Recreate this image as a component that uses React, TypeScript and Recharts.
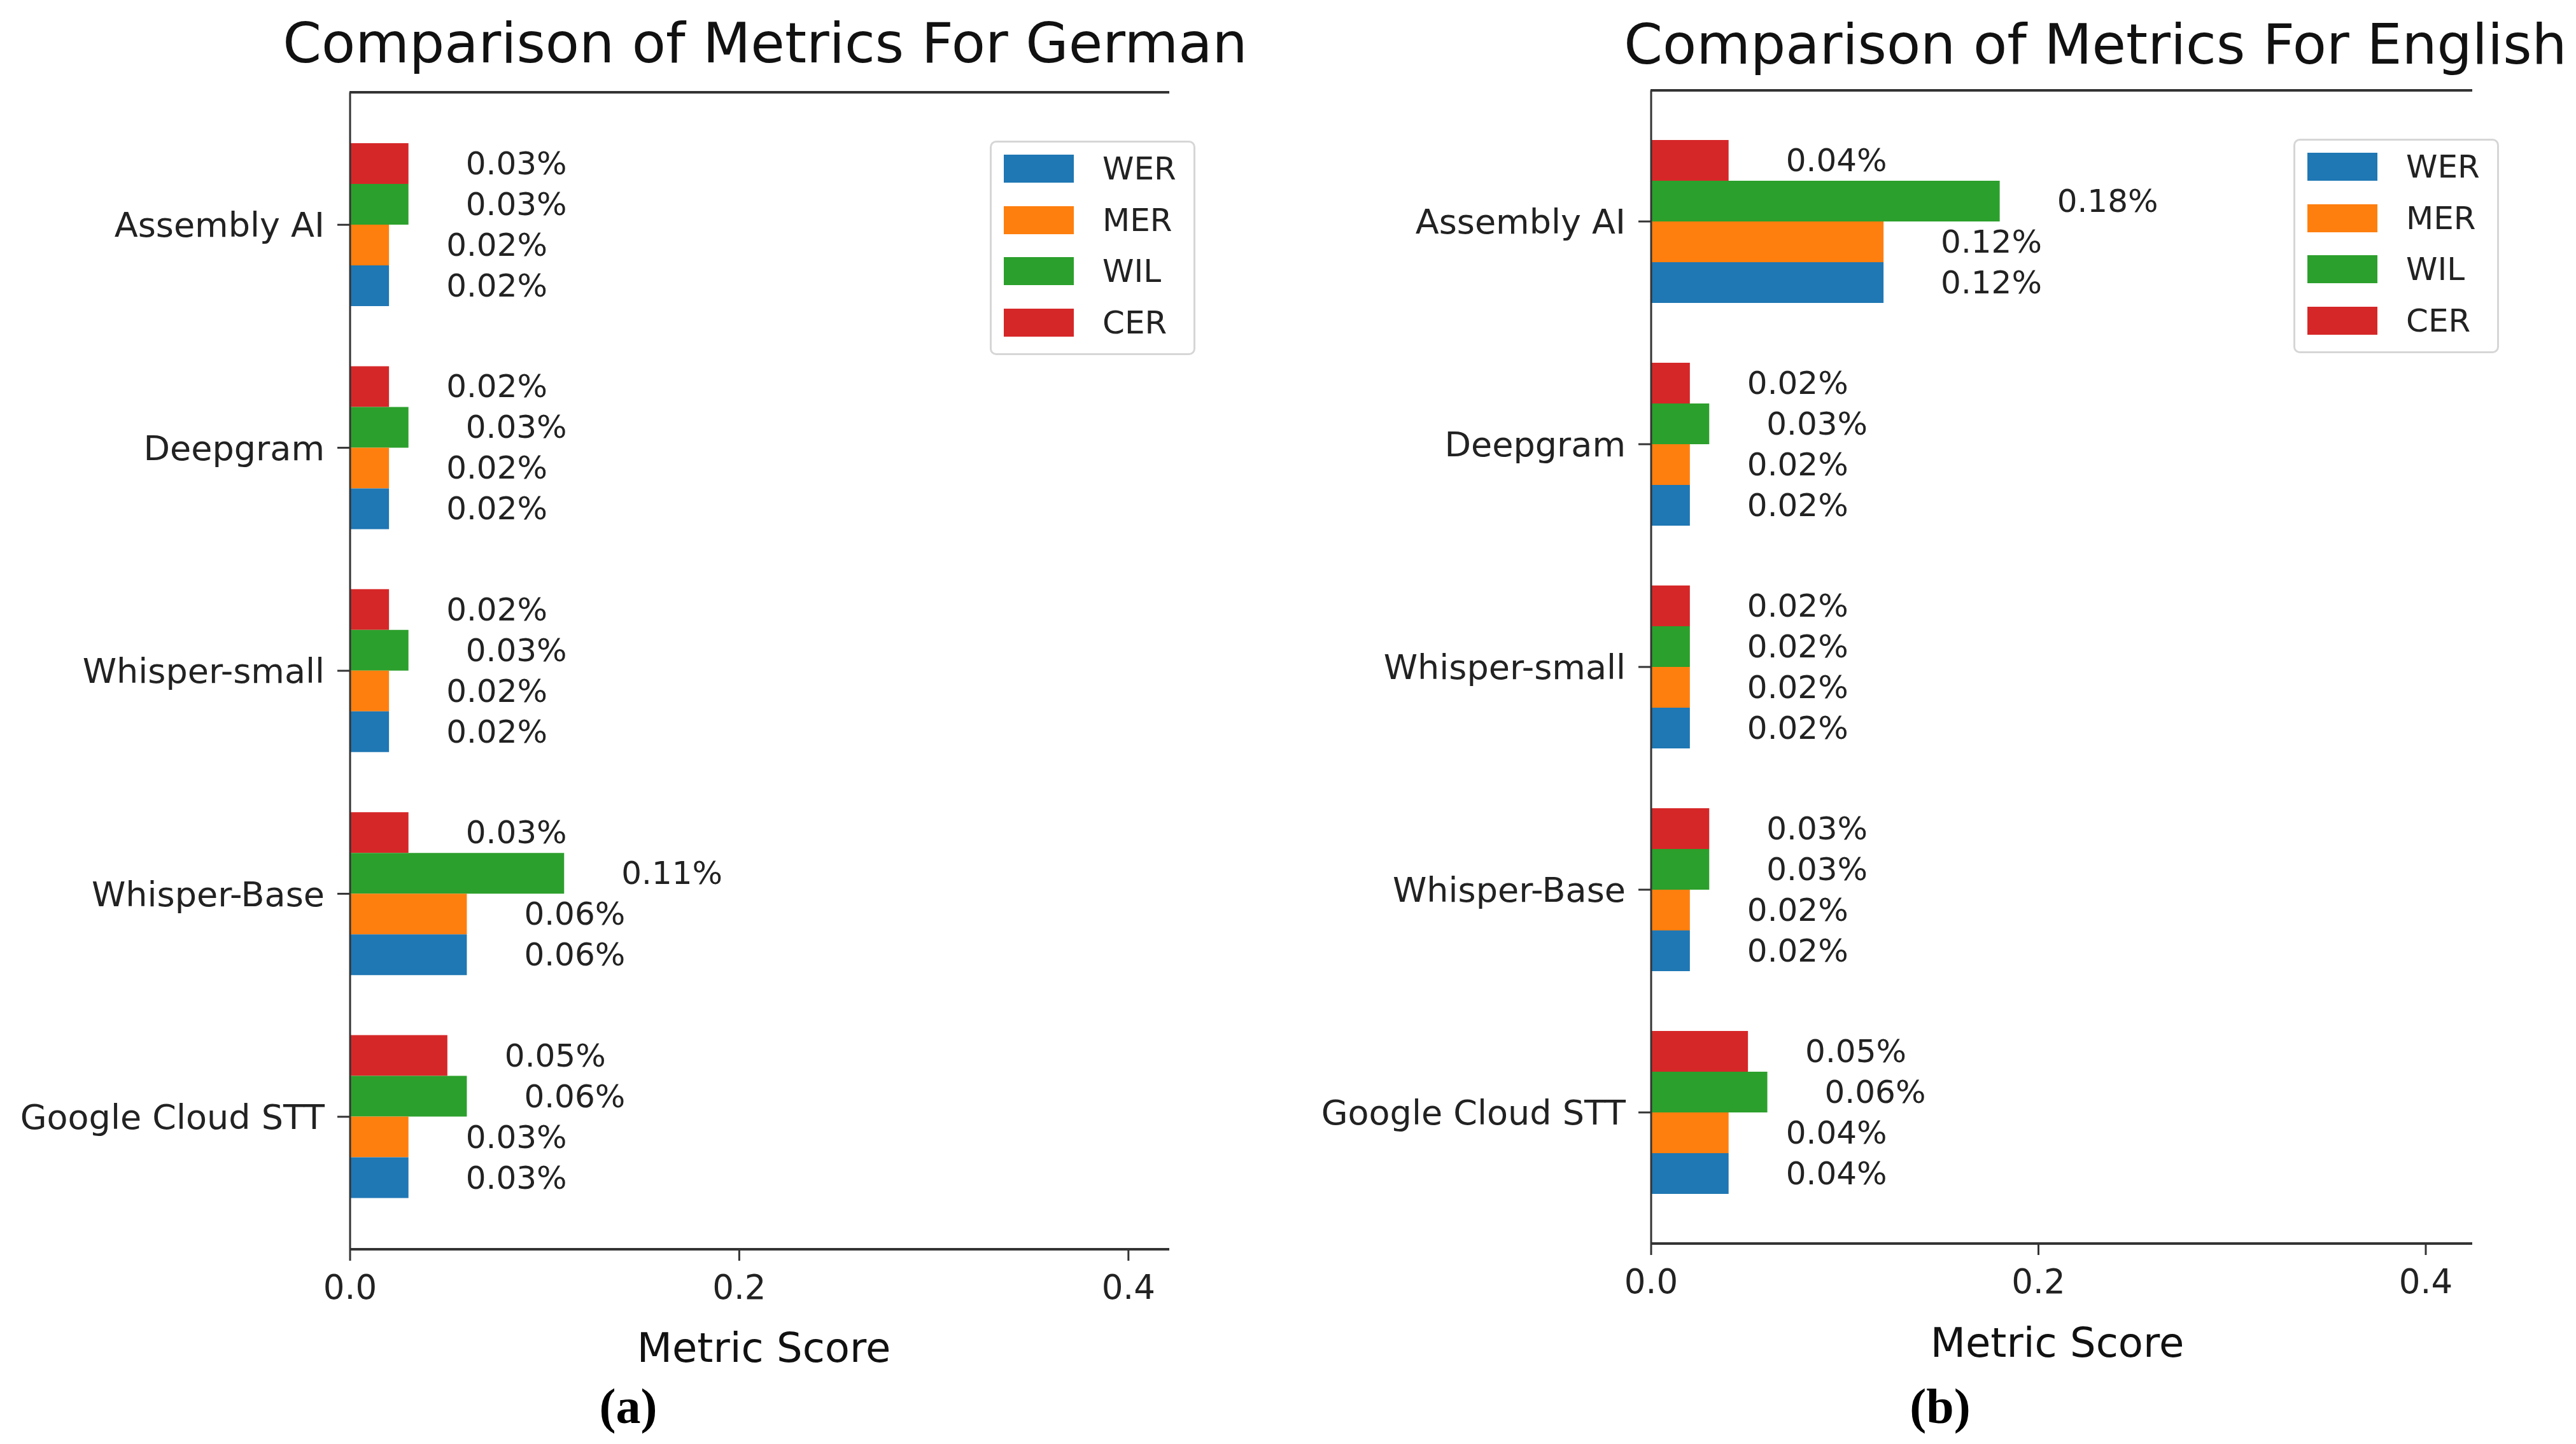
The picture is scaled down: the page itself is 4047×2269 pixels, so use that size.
import { BarChart, Bar, XAxis, YAxis, Legend, LabelList } from 'recharts';

const models = ['Assembly AI', 'Deepgram', 'Whisper-small', 'Whisper-Base', 'Google Cloud STT'];
const metrics = ['WER', 'MER', 'WIL', 'CER'];
const colors = ['#1f77b4', '#ff7f0e', '#2ca02c', '#d62728'];
const xTicks = [0, 0.2, 0.4];

const germanWER = [0.02, 0.02, 0.02, 0.06, 0.03];
const germanMER = [0.02, 0.02, 0.02, 0.06, 0.03];
const germanWIL = [0.03, 0.03, 0.03, 0.11, 0.06];
const germanCER = [0.03, 0.02, 0.02, 0.03, 0.05];

const englishWER = [0.12, 0.02, 0.02, 0.02, 0.04];
const englishMER = [0.12, 0.02, 0.02, 0.02, 0.04];
const englishWIL = [0.18, 0.03, 0.02, 0.03, 0.06];
const englishCER = [0.04, 0.02, 0.02, 0.03, 0.05];

const FONT = '"DejaVu Sans", sans-serif';

const buildRows = (wer: number[], mer: number[], wil: number[], cer: number[]) =>
    models.map((model, i) => ({ model, WER: wer[i], MER: mer[i], WIL: wil[i], CER: cer[i] }));

const germanRows = buildRows(germanWER, germanMER, germanWIL, germanCER);
const englishRows = buildRows(englishWER, englishMER, englishWIL, englishCER);

const BarValue = (props: any) => {
    const { x, y, width, height, value } = props;
    return (
        <text
            x={Number(x) + Number(width) + 90}
            y={Number(y) + Number(height) / 2}
            dominantBaseline="central"
            fontSize={50}
            fontFamily={FONT}
            fill="#222"
        >
            {`${Number(value).toFixed(2)}%`}
        </text>
    );
};

const LegendBox = () => (
    <div
        style={{
            position: 'relative',
            width: 323,
            height: 337,
            boxSizing: 'border-box',
            border: '3px solid #d6d6d6',
            borderRadius: 10,
            background: '#fff',
            fontFamily: FONT,
        }}
    >
        {metrics.map((m, i) => (
            <div key={m}>
                <div
                    style={{
                        position: 'absolute',
                        left: 19,
                        top: 41 + i * 80.5 - 22,
                        width: 110,
                        height: 44,
                        background: colors[i],
                    }}
                />
                <div
                    style={{
                        position: 'absolute',
                        left: 174,
                        top: 41 + i * 80.5,
                        transform: 'translateY(-50%)',
                        fontSize: 50,
                        lineHeight: 1,
                        color: '#222',
                    }}
                >
                    {m}
                </div>
            </div>
        ))}
    </div>
);

type PanelProps = {
    rows: any[];
    left: number;
    width: number;
    yAxisWidth: number;
    plotTop: number;
    plotBottom: number;
    marginRight: number;
    xMax: number;
    pad: number;
    legendLeft: number;
    legendTop: number;
};

const Panel: React.FC<PanelProps> = ({ rows, left, width, yAxisWidth, plotTop, plotBottom, marginRight, xMax, pad, legendLeft, legendTop }) => {
    const height = 2269;
    const xAxisHeight = 100;
    return (
        <div style={{ position: 'absolute', left, top: 0, width, height }}>
            <BarChart
                layout="vertical"
                width={width}
                height={height}
                data={rows}
                barGap={0}
                barSize={64}
                margin={{ top: plotTop, right: marginRight, left: 0, bottom: height - plotBottom - xAxisHeight }}
            >
                <XAxis
                    type="number"
                    domain={[0, xMax]}
                    ticks={xTicks}
                    allowDataOverflow
                    tickFormatter={(v: number) => v.toFixed(1)}
                    height={xAxisHeight}
                    tickSize={18}
                    tickMargin={22}
                    axisLine={{ stroke: '#333', strokeWidth: 4 }}
                    tickLine={{ stroke: '#333', strokeWidth: 3 }}
                    tick={{ fontSize: 53, fontFamily: FONT, fill: '#222' }}
                />
                <YAxis
                    type="category"
                    dataKey="model"
                    width={yAxisWidth}
                    interval={0}
                    padding={{ top: pad, bottom: pad }}
                    tickSize={20}
                    tickMargin={20}
                    axisLine={{ stroke: '#333', strokeWidth: 3 }}
                    tickLine={{ stroke: '#333', strokeWidth: 3 }}
                    tick={{ fontSize: 54, fontFamily: FONT, fill: '#222' }}
                />
                <Legend
                    layout="vertical"
                    align="center"
                    verticalAlign="middle"
                    wrapperStyle={{ left: legendLeft, top: legendTop, width: 323 }}
                    content={() => <LegendBox />}
                />
                {['CER', 'WIL', 'MER', 'WER'].map((key) => (
                    <Bar key={key} dataKey={key} fill={colors[metrics.indexOf(key)]} isAnimationActive={false}>
                        <LabelList dataKey={key} content={BarValue} />
                    </Bar>
                ))}
            </BarChart>
            {/* top spine of the axes frame */}
            <div
                style={{
                    position: 'absolute',
                    left: yAxisWidth - 1,
                    top: plotTop - 2,
                    width: width - marginRight - yAxisWidth + 1,
                    height: 4,
                    background: '#333',
                }}
            />
        </div>
    );
};

const Caption = ({ x, y, size, children, serif }: any) => (
    <div
        style={{
            position: 'absolute',
            left: x,
            top: y,
            transform: 'translate(-50%, -50%)',
            fontSize: size,
            lineHeight: 1,
            whiteSpace: 'nowrap',
            color: serif ? '#000' : '#111',
            fontFamily: serif ? '"Liberation Serif", serif' : FONT,
            fontWeight: serif ? 'bold' : 'normal',
        }}
    >
        {children}
    </div>
);

export default function App() {
    return (
        <div style={{ position: 'relative', width: 4047, height: 2269, background: '#fff', overflow: 'hidden' }}>
            <style>{'body{margin:0}'}</style>
            <Panel
                rows={germanRows}
                left={0}
                width={2000}
                yAxisWidth={550}
                plotTop={145}
                plotBottom={1963}
                marginRight={163}
                xMax={0.421}
                pad={33}
                legendLeft={1555}
                legendTop={221}
            />
            <Panel
                rows={englishRows}
                left={2000}
                width={2047}
                yAxisWidth={594}
                plotTop={142}
                plotBottom={1954}
                marginRight={163}
                xMax={0.424}
                pad={31}
                legendLeft={1603}
                legendTop={218}
            />
            <Caption x={1202} y={68} size={87}>Comparison of Metrics For German</Caption>
            <Caption x={3292} y={70} size={87}>Comparison of Metrics For English</Caption>
            <Caption x={1200} y={2118} size={64}>Metric Score</Caption>
            <Caption x={3232} y={2110} size={64}>Metric Score</Caption>
            <Caption x={987} y={2210} size={78} serif>(a)</Caption>
            <Caption x={3048} y={2210} size={78} serif>(b)</Caption>
        </div>
    );
}
